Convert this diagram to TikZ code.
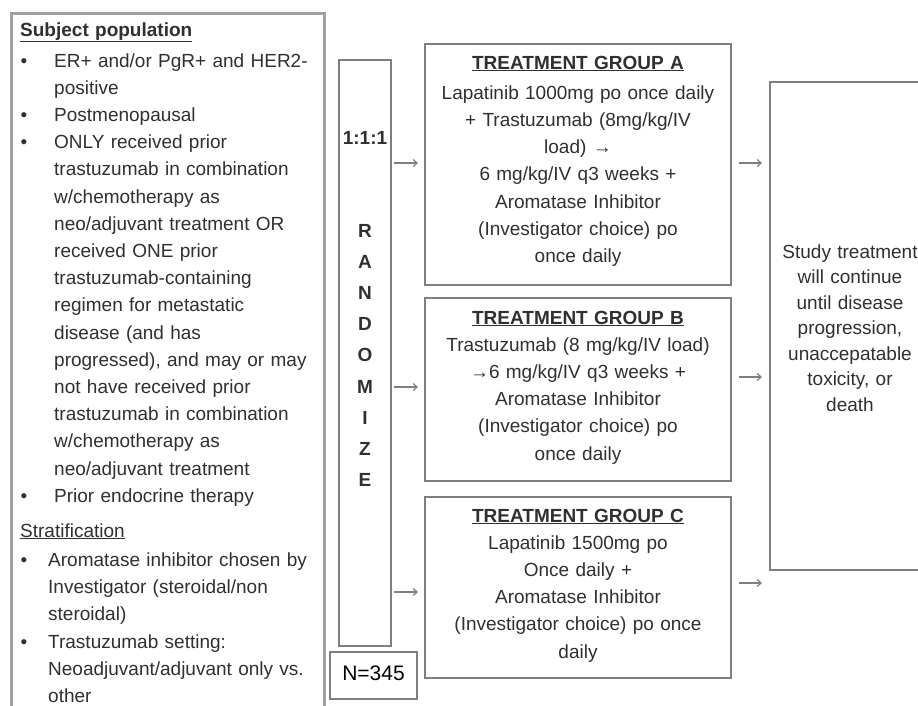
\documentclass[tikz,border=0pt]{standalone}
\usepackage{fontspec}
\setmainfont{Liberation Sans}
\usetikzlibrary{arrows.meta}
\definecolor{txt}{HTML}{303030}
\definecolor{ln}{HTML}{7F7F7F}
\definecolor{lnl}{HTML}{A0A0A0}
\begin{document}
\begin{tikzpicture}[x=1pt,y=-1pt,
  box/.style={draw=ln, line width=1.3pt, inner sep=0pt, outer sep=0pt},
  lt/.style={font=\fontsize{19}{27.2}\selectfont, text=txt, inner sep=0pt, anchor=base west, text width=268pt, align=left},
  ct/.style={font=\fontsize{19}{27.3}\selectfont, text=txt, inner sep=0pt, anchor=base, text width=300pt, align=center},
  bul/.style={font=\fontsize{19}{27.2}\selectfont, text=txt, inner sep=0pt, anchor=base},
  arr/.style={draw=ln, line width=1.2pt, -{Straight Barb[length=4pt,width=7pt]}},
]
\useasboundingbox (0,0) rectangle (918,705);
\fill[white] (0,0) rectangle (918,705);

% left box
\node[draw=lnl, line width=2.5pt, inner sep=0pt, minimum width=313pt, minimum height=740pt, anchor=north west] (L) at (10,12) {};
\node[lt] (t1) at (20,36) {\textbf{\underline{Subject population}}};
\node[bul] (d1) at (24,67) {\textbullet};
\node[lt] (i1) at (54,67) {ER+ and/or PgR+ and HER2-\\positive};
\node[bul] (d2) at (24,121.4) {\textbullet};
\node[lt] (i2) at (54,121.4) {Postmenopausal};
\node[bul] (d3) at (24,148.6) {\textbullet};
\node[lt] (i3) at (54,148.6) {ONLY received prior\\trastuzumab in combination\\w/chemotherapy as\\neo/adjuvant treatment OR\\received ONE prior\\trastuzumab-containing\\regimen for metastatic\\disease (and has\\progressed), and may or may\\not have received prior\\trastuzumab in combination\\w/chemotherapy as\\neo/adjuvant treatment};
\node[bul] (d4) at (24,502) {\textbullet};
\node[lt] (i4) at (54,502) {Prior endocrine therapy};
\node[lt] (t2) at (20,537) {\underline{Stratification}};
\node[bul] (d5) at (24,566) {\textbullet};
\node[lt] (s1) at (48,566) {Aromatase inhibitor chosen by\\Investigator (steroidal/non\\steroidal)};
\node[bul] (d6) at (24,648) {\textbullet};
\node[lt] (s2) at (48,648) {Trastuzumab setting:\\Neoadjuvant/adjuvant only vs.\\other};

% randomize
\node[box, minimum width=52pt, minimum height=586pt, anchor=north west] (R) at (339,60) {};
\node[bul] (ratio) at (365,144) {\textbf{1:1:1}};
\node[ct, text width=40pt, font=\fontsize{19}{31.2}\selectfont\bfseries] (rt) at (365,237) {R\\A\\N\\D\\O\\M\\I\\Z\\E};
\node[box, minimum width=87pt, minimum height=47pt, anchor=north west] (N) at (330,652) {};
\node[bul, text=black, font=\fontsize{21}{25}\selectfont] (nt) at (N.center |- 0,680) {N=345};

% groups
\node[box, minimum width=306pt, minimum height=241pt, anchor=north west] (A) at (425,44) {};
\node[ct] (At) at (578,69) {\textbf{\underline{TREATMENT GROUP A}}};
\node[ct] (Ab) at (578,99) {Lapatinib 1000mg po once daily\\+ Trastuzumab (8mg/kg/IV\\load) →\\6 mg/kg/IV q3 weeks +\\Aromatase Inhibitor\\(Investigator choice) po\\once daily};

\node[box, minimum width=306pt, minimum height=183pt, anchor=north west] (B) at (425,298) {};
\node[ct] (Bt) at (578,324) {\textbf{\underline{TREATMENT GROUP B}}};
\node[ct] (Bb) at (578,351) {Trastuzumab (8 mg/kg/IV load)\\→6 mg/kg/IV q3 weeks +\\Aromatase Inhibitor\\(Investigator choice) po\\once daily};

\node[box, minimum width=306pt, minimum height=181pt, anchor=north west] (C) at (425,497) {};
\node[ct] (Ct) at (578,522) {\textbf{\underline{TREATMENT GROUP C}}};
\node[ct] (Cb) at (578,549) {Lapatinib 1500mg po\\Once daily +\\Aromatase Inhibitor\\(Investigator choice) po once\\daily};

% study
\node[box, minimum width=170pt, minimum height=488pt, anchor=north west] (S) at (770,82) {};
\node[ct, text width=150pt, font=\fontsize{19}{25.5}\selectfont] (St) at (850,258) {Study treatment\\will continue\\until disease\\progression,\\unaccepatable\\toxicity, or\\death};

% arrows
\coordinate (ra) at (R.east |- 0,163);
\coordinate (rb) at (R.east |- 0,387);
\coordinate (rc) at (R.east |- 0,592);
\draw[arr, shorten <=3pt, shorten >=7pt] (ra) -- (A.west |- ra);
\draw[arr, shorten <=3pt, shorten >=7pt] (rb) -- (B.west |- rb);
\draw[arr, shorten <=3pt, shorten >=7pt] (rc) -- (C.west |- rc);
\coordinate (sa) at (A.east |- 0,163);
\coordinate (sb) at (B.east |- 0,377);
\coordinate (sc) at (C.east |- 0,583);
\draw[arr, shorten <=8pt, shorten >=8pt] (sa) -- (S.west |- sa);
\draw[arr, shorten <=8pt, shorten >=8pt] (sb) -- (S.west |- sb);
\draw[arr, shorten <=8pt, shorten >=8pt] (sc) -- (S.west |- sc);
\end{tikzpicture}
\end{document}
